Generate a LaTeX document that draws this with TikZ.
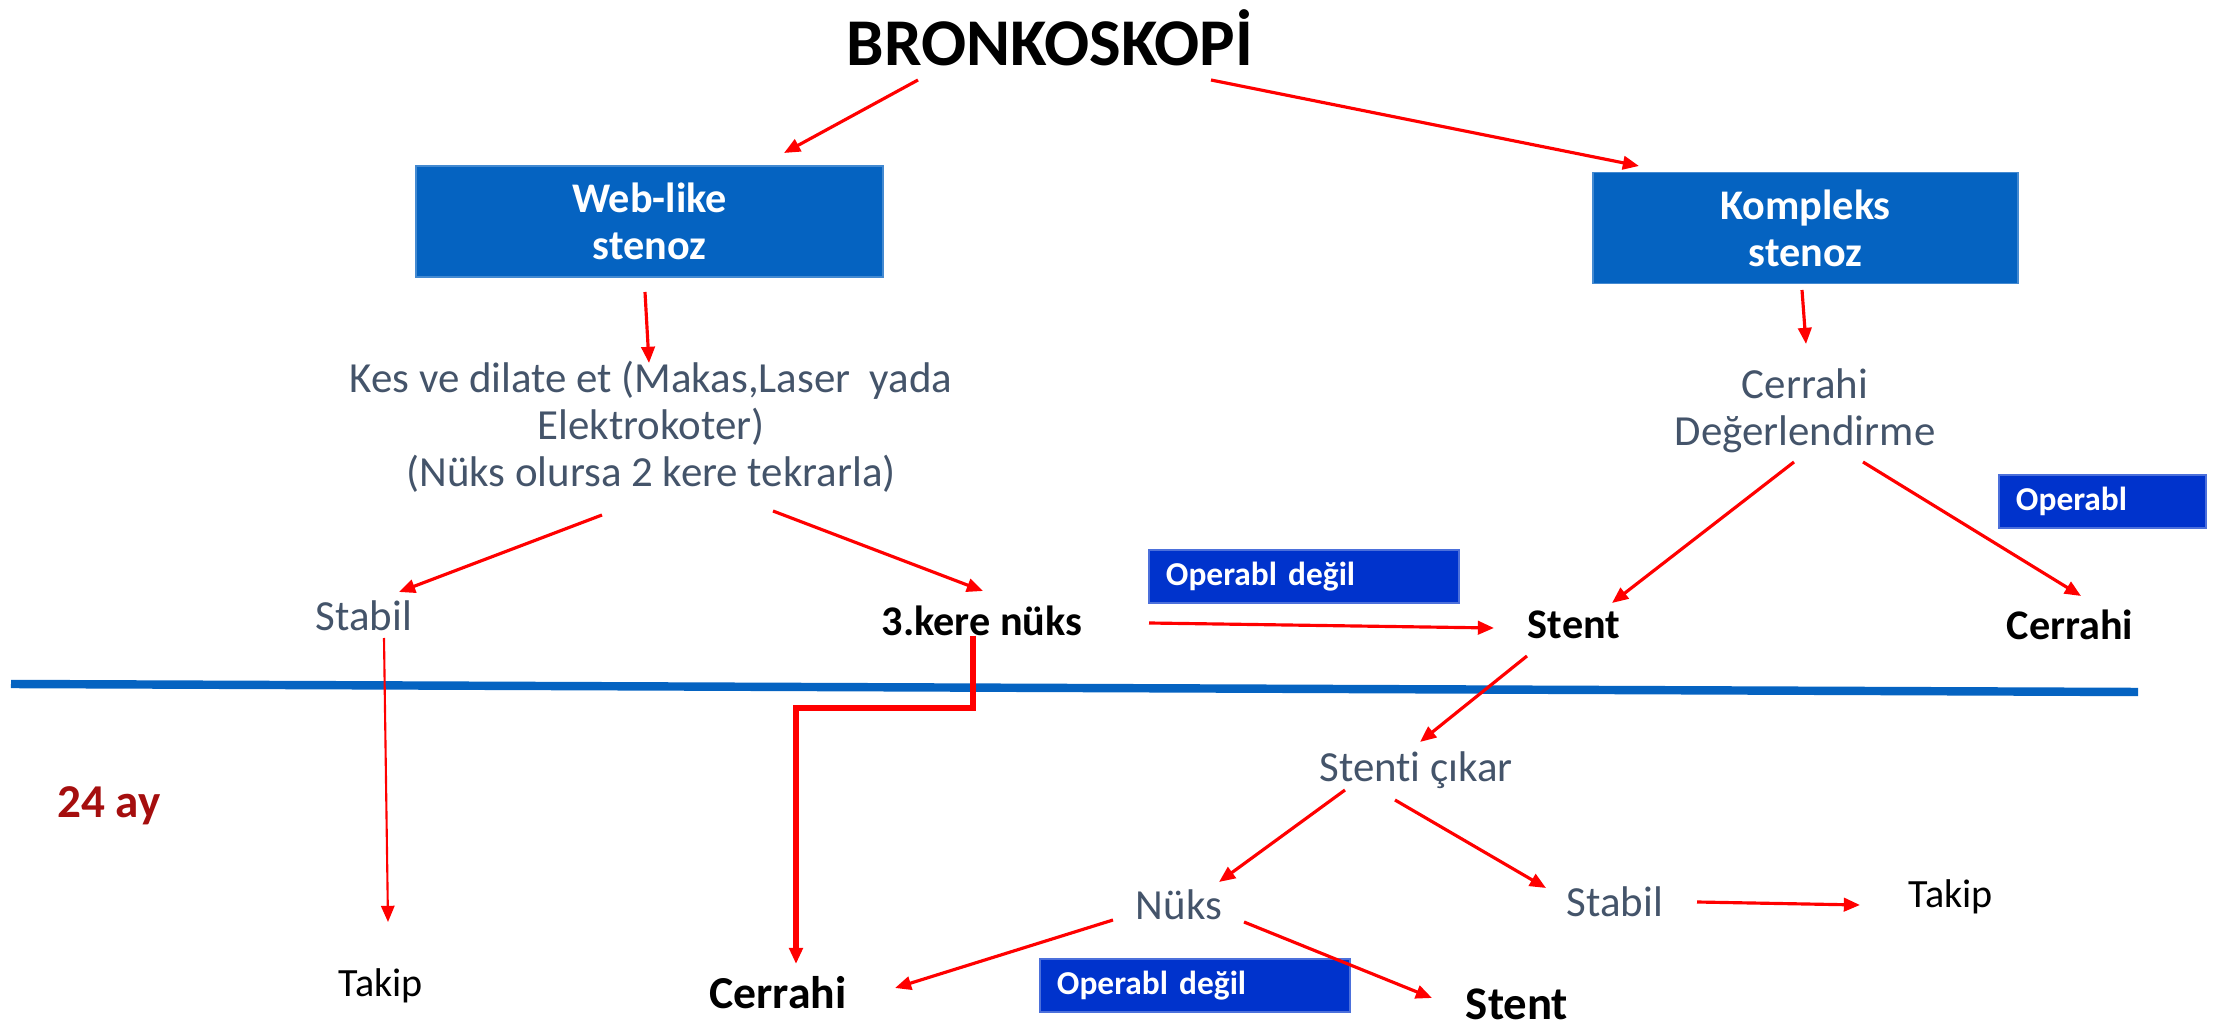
\documentclass[tikz,border=0pt]{standalone}
\usepackage{fontspec}
\setmainfont{Carlito}[Ligatures=NoCommon]
\usetikzlibrary{positioning, arrows.meta, calc}

\definecolor{boxblue}{RGB}{5,99,193}
\definecolor{opblue}{RGB}{0,51,204}
\definecolor{slate}{RGB}{68,84,106}
\definecolor{darkred}{RGB}{165,14,14}

\begin{document}
\begin{tikzpicture}[
                x=0.01cm, y=-0.01cm,
                >={Triangle[length=4.6pt, width=3.8pt]},
                link/.style={->, red, line width=0.9pt},
                thinlink/.style={->, red, line width=0.6pt},
                thicklink/.style={->, red, line width=1.8pt},
                stenoz/.style={rectangle, fill=boxblue, draw=boxblue!75!white, text=white, align=center,
                               font=\fontsize{12}{13.4}\selectfont\bfseries, minimum height=1.11cm},
                opbox/.style={rectangle, fill=opblue, draw=opblue!70!white, text=white, align=left,
                              inner xsep=0.17cm, minimum height=0.53cm, font=\fontsize{9.5}{11}\selectfont\bfseries},
                soft/.style={text=slate, align=center, inner sep=0pt, font=\fontsize{12.2}{13.4}\selectfont},
                strong/.style={text=black, inner sep=0pt, font=\fontsize{12}{14}\selectfont\bfseries},
                plain/.style={text=black, inner sep=0pt, font=\fontsize{11.4}{13}\selectfont},
            ]
                \useasboundingbox (0,0) rectangle (2227,1031);

                % Draw the 24 month line
                \draw[boxblue, line width=2.4pt] (11,684) -- (2138,692);

                % Draw the title and the two stenosis boxes
                \node[inner sep=0pt, font=\fontsize{19}{22}\selectfont\bfseries] (title) at (1050,38) {BRONKOSKOPİ};
                \node[stenoz, minimum width=4.67cm] (web) at (649.5,221.5) {Web-like\\stenoz};
                \node[stenoz, minimum width=4.25cm] (komp) at (1805.5,228) {Kompleks\\stenoz};

                % Draw the text nodes
                \node[soft] (kes) at (651,427) {Kes ve dilate et (Makas,Laser~ yada\\Elektrokoter)\\(Nüks olursa 2 kere tekrarla)};
                \node[soft] (deger) at (1805,411) {Cerrahi\\Değerlendirme};
                \node[soft] (stabilA) at (364,616) {Stabil};
                \node[strong] (kere) at (982,621) {3.kere nüks};
                \node[strong] (stentA) at (1574,625) {Stent};
                \node[strong] (cerrahiA) at (2070,625) {Cerrahi};
                \node[soft] (stenti) at (1416,770) {Stenti çıkar};
                \node[soft] (nuks) at (1179,905) {Nüks};
                \node[soft] (stabilB) at (1615,902) {Stabil};
                \node[plain] (takipB) at (1951,897) {Takip};
                \node[plain] (takipA) at (381,986) {Takip};
                \node[strong, font=\fontsize{13}{15}\selectfont\bfseries] (cerrahiB) at (778,993) {Cerrahi};
                \node[strong, font=\fontsize{13.3}{15}\selectfont\bfseries] (stentB) at (1517,1004) {Stent};
                \node[inner sep=0pt, text=darkred, font=\fontsize{13.4}{15}\selectfont\bfseries] (ay) at (109,806) {24 ay};

                % Draw the operabl labels
                \node[opbox, text width=1.73cm] (opA) at (2102.5,501.5) {Operabl};
                \node[opbox, text width=2.76cm] (opB) at (1304,576.5) {Operabl değil};
                \node[opbox, text width=2.76cm] (opC) at (1195,985.5) {Operabl değil};

                % Connect the nodes
                \draw[link] ($(title)+(-132,42)$) -- ($(web)+(134.5,-68.5)$);
                \draw[link] ($(title)+(161,42)$) -- ($(komp)+(-166.5,-62)$);
                \draw[link] ($(web)+(-4.5,70.5)$) -- ($(kes)+(-2,-64)$);
                \draw[link] ($(komp)+(-3.5,62)$) -- ($(deger)+(1,-67)$);
                \draw[link] ($(kes)+(-49,88)$) -- ($(stabilA)+(35,-24)$);
                \draw[link] ($(kes)+(122,84)$) -- ($(kere)+(1,-30)$);
                \draw[link] ($(deger)+(-11,51)$) -- ($(stentA)+(38,-22)$);
                \draw[link] ($(deger)+(58,51)$) -- ($(cerrahiA)+(11,-29)$);
                \draw[link] ($(kere)+(167,2)$) -- ($(stentA)+(-80,3)$);
                \draw[thinlink] ($(stabilA)+(20,22)$) -- ($(takipA)+(7,-64)$);
                \draw[thicklink] ($(kere)+(-9,15)$) -- ++(0,72) -| ($(cerrahiB)+(18,-29)$);
                \draw[link] ($(stentA)+(-47,31)$) -- ($(stenti)+(4,-28)$);
                \draw[link] ($(stenti)+(-71,20)$) -- ($(nuks)+(40,-23)$);
                \draw[link] ($(stenti)+(-21,30)$) -- ($(stabilB)+(-69,-14)$);
                \draw[link] ($(stabilB)+(82,0)$) -- ($(takipB)+(-91,8)$);
                \draw[link] ($(nuks)+(-66,15)$) -- ($(cerrahiB)+(117,-5)$);
                \draw[link] ($(nuks)+(65,17)$) -- ($(stentB)+(-85,-6)$);
\end{tikzpicture}
\end{document}
